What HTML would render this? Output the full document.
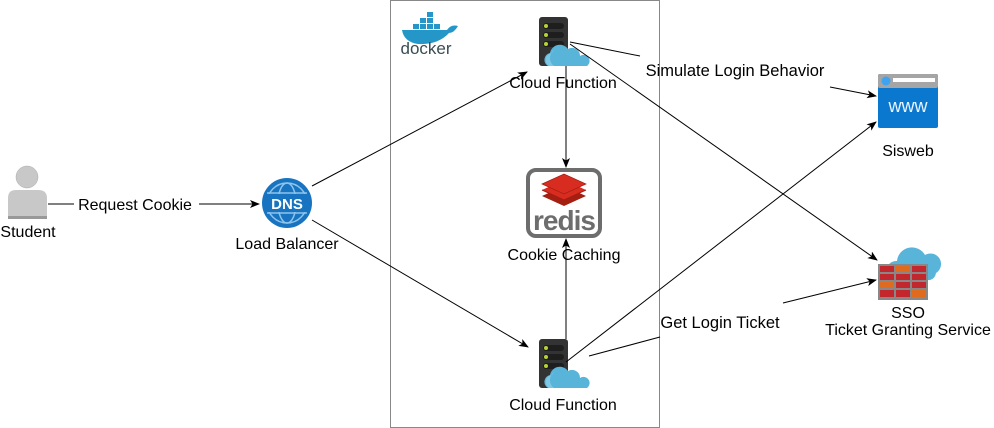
<!DOCTYPE html>
<html><head><meta charset="utf-8"><style>
body{margin:0;background:#fff;}
svg{display:block;font-family:"Liberation Sans",Arial,sans-serif;}
</style></head><body>
<svg width="994" height="428" viewBox="0 0 994 428">
<defs>
<marker id="a" markerWidth="10" markerHeight="8" refX="9" refY="4" orient="auto" markerUnits="userSpaceOnUse">
<path d="M0,0 L10,4 L0,8 L2.5,4 z" fill="#000"/></marker>
<g id="cf">
<rect x="0" y="0" width="29" height="49" rx="3" fill="#333"/>
<rect x="4" y="6" width="21" height="6" rx="3" fill="#1e1e1e"/>
<rect x="4" y="15" width="21" height="6" rx="3" fill="#1e1e1e"/>
<rect x="4" y="24" width="21" height="6" rx="3" fill="#1e1e1e"/>
<circle cx="7" cy="9" r="2" fill="#b5d334"/>
<circle cx="7" cy="18" r="2" fill="#b5d334"/>
<circle cx="7" cy="27" r="2" fill="#b5d334"/>
<path d="M11,49 a7,7 0 0 1 2,-13 a10,10 0 0 1 18,-4 a8,8 0 0 1 12,7 a6,6 0 0 1 7,10 z" fill="#59b4d9" transform="translate(-2,0)"/>
<path d="M10,49 a7,7 0 0 1 3,-13 a9,9 0 0 1 8,-5 a10,10 0 0 0 -6,18 z" fill="#7dc8e6"/>
</g>
</defs>
<rect x="390.5" y="0.5" width="269" height="427" fill="none" stroke="#888"/>

<!-- docker -->
<g fill="#2496c8">
<rect x="413" y="24" width="6" height="5"/><rect x="420" y="24" width="6" height="5"/><rect x="427" y="24" width="6" height="5"/><rect x="434" y="24" width="6" height="5"/>
<rect x="420" y="18" width="6" height="5"/><rect x="427" y="18" width="6" height="5"/><rect x="427" y="12" width="6" height="5"/>
<path d="M402,30 L447,30 Q451,24 458,26 Q454,33 449,33 Q438,45 418,44 Q404,42 402,30z"/>
</g>
<text x="426" y="54" font-size="17" fill="#394d54" text-anchor="middle">docker</text>

<!-- student -->
<circle cx="27" cy="177" r="11" fill="#c8c8c8" stroke="#aaa" stroke-width="0.5"/>
<path d="M8,218 L8,198 Q8,190 16,190 L38,190 Q47,190 47,198 L47,218 z" fill="#c8c8c8"/>
<rect x="8" y="216" width="39" height="3" fill="#999"/>
<text x="28" y="237" font-size="16" text-anchor="middle">Student</text>
<line x1="48" y1="204" x2="74" y2="204" stroke="#000"/>
<text x="135" y="210" font-size="16" text-anchor="middle">Request Cookie</text>
<line x1="199" y1="204" x2="259" y2="204" stroke="#000" marker-end="url(#a)"/>

<!-- DNS -->
<circle cx="287" cy="203" r="25" fill="#1874c0"/>
<circle cx="287" cy="203" r="20" fill="none" stroke="#8cc4ec" stroke-width="1.5"/>
<ellipse cx="287" cy="203" rx="9" ry="20" fill="none" stroke="#8cc4ec" stroke-width="1.5"/>
<line x1="267" y1="193" x2="307" y2="193" stroke="#8cc4ec" stroke-width="1.5"/>
<line x1="267" y1="213" x2="307" y2="213" stroke="#8cc4ec" stroke-width="1.5"/>
<rect x="265" y="194" width="44" height="18" fill="#1874c0"/>
<text x="287" y="209" font-size="15" font-weight="bold" fill="#fff" text-anchor="middle">DNS</text>
<text x="287" y="249" font-size="16" text-anchor="middle">Load Balancer</text>

<line x1="312" y1="186" x2="527" y2="72" stroke="#000" marker-end="url(#a)"/>
<line x1="312" y1="220" x2="528" y2="347" stroke="#000" marker-end="url(#a)"/>

<use href="#cf" x="539" y="17"/>
<text x="563" y="88" font-size="16" text-anchor="middle">Cloud Function</text>
<use href="#cf" x="539" y="339"/>
<text x="563" y="410" font-size="16" text-anchor="middle">Cloud Function</text>

<line x1="566" y1="66" x2="566" y2="167" stroke="#000" marker-end="url(#a)"/>
<line x1="566" y1="339" x2="566" y2="239" stroke="#000" marker-end="url(#a)"/>

<!-- redis -->
<rect x="528" y="170" width="72" height="66" rx="8" fill="#fff" stroke="#6d6d6d" stroke-width="4"/>
<path d="M542,196 L564,186 L586,196 L564,206z" fill="#a41e11"/>
<path d="M542,190 L564,180 L586,190 L564,200z" fill="#d82c20"/>
<path d="M542,184 L564,174 L586,184 L564,194z" fill="#d82c20" stroke="#a41e11" stroke-width="0.7"/>
<path d="M542,190 L564,200 L586,190" fill="none" stroke="#a41e11"/>
<text x="564" y="230" font-size="28" fill="#6d6d6d" text-anchor="middle" font-weight="bold" letter-spacing="-1">redis</text>
<text x="564" y="260" font-size="16" text-anchor="middle">Cookie Caching</text>

<!-- connectors to right -->
<line x1="570" y1="42" x2="640" y2="56" stroke="#000"/>
<text x="735" y="76" font-size="16.5" text-anchor="middle">Simulate Login Behavior</text>
<line x1="830" y1="87" x2="876" y2="96" stroke="#000" marker-end="url(#a)"/>
<line x1="570" y1="44" x2="877" y2="260" stroke="#000" marker-end="url(#a)"/>
<line x1="566" y1="362" x2="876" y2="122" stroke="#000" marker-end="url(#a)"/>
<line x1="589" y1="356" x2="660" y2="337" stroke="#000"/>
<text x="720" y="328" font-size="16.5" text-anchor="middle">Get Login Ticket</text>
<line x1="783" y1="303" x2="876" y2="280" stroke="#000" marker-end="url(#a)"/>

<!-- sisweb -->
<rect x="878" y="74" width="60" height="54" rx="2" fill="#0b78d0"/>
<rect x="878" y="74" width="60" height="14" rx="2" fill="#a5a5a5"/>
<circle cx="886" cy="81" r="4.5" fill="#3fa4ef"/>
<rect x="893" y="78" width="42" height="4" fill="#fff"/>
<text x="908" y="112" font-size="18" fill="#e8f4ff" text-anchor="middle">www</text>
<text x="908" y="156" font-size="16" text-anchor="middle">Sisweb</text>

<!-- SSO -->
<path d="M892,280 a10,10 0 0 1 5,-19 a15,15 0 0 1 28,-6 a10,10 0 0 1 11,18 a8,8 0 0 1 -6,7z" fill="#59b4d9"/>
<rect x="878" y="264" width="50" height="36" fill="#888"/>
<g fill="#c1272d">
<rect x="880" y="266" width="14" height="6"/><rect x="896" y="266" width="14" height="6" fill="#e06b1f"/><rect x="912" y="266" width="14" height="6"/>
<rect x="880" y="274" width="14" height="6"/><rect x="896" y="274" width="14" height="6"/><rect x="912" y="274" width="14" height="6"/>
<rect x="880" y="282" width="14" height="6" fill="#e06b1f"/><rect x="896" y="282" width="14" height="6"/><rect x="912" y="282" width="14" height="6"/>
<rect x="880" y="290" width="14" height="7"/><rect x="896" y="290" width="14" height="7"/><rect x="912" y="290" width="14" height="7" fill="#e06b1f"/>
</g>
<text x="908" y="318" font-size="16" text-anchor="middle">SSO</text>
<text x="908" y="335" font-size="16" text-anchor="middle">Ticket Granting Service</text>
</svg>
</body></html>
